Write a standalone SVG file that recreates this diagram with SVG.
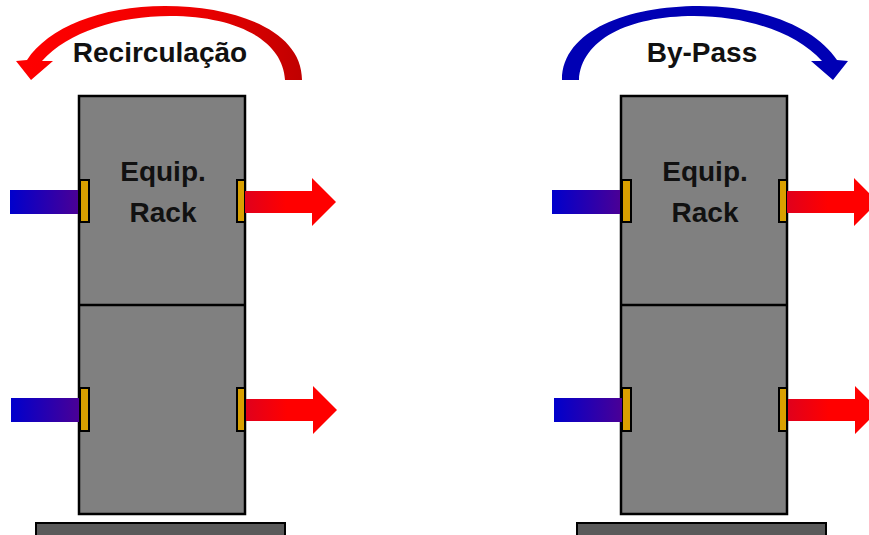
<svg xmlns="http://www.w3.org/2000/svg" width="869" height="535" viewBox="0 0 869 535">
<defs>
<linearGradient id="gBlue" x1="0" y1="0" x2="1" y2="0"><stop offset="0" stop-color="#0000cc"/><stop offset="1" stop-color="#4a0096"/></linearGradient>
<linearGradient id="gRed" x1="0" y1="0" x2="1" y2="0"><stop offset="0" stop-color="#e0001c"/><stop offset="0.45" stop-color="#ff0000"/><stop offset="1" stop-color="#ff0000"/></linearGradient>
<linearGradient id="gArcRed" x1="0" y1="0" x2="1" y2="0"><stop offset="0" stop-color="#ff0000"/><stop offset="0.6" stop-color="#f00000"/><stop offset="1" stop-color="#c00000"/></linearGradient>
<path id="arc" d="M302 80 C302 30 235 6 165 6 C100 6 48 28 27 60 L16 61 L31 80 L53 61 L42 61 C68 32 118 16 170 16 C236 16 283 40 285 80 Z"/>
<path id="flowArrow" d="M0 -11 L67 -11 L67 -24 L91 0 L67 24 L67 11 L0 11 Z"/>
<rect id="inBar" x="0" y="-12" width="68" height="24"/>
</defs>
<style>
.rack{fill:#808080;stroke:#000;stroke-width:2.5}
.base{fill:#5a5a5a;stroke:#000;stroke-width:2}
.port{fill:#d9a000;stroke:#000;stroke-width:2}
.lbl{font-family:"Liberation Sans",Arial,sans-serif;font-weight:bold;font-size:28px;fill:#111;text-anchor:middle}
</style>

<g id="rack-left">
<rect class="base" x="36" y="523" width="249" height="14"/>
<rect class="rack" x="79" y="96" width="166" height="418"/>
<line x1="79" y1="305" x2="245" y2="305" stroke="#000" stroke-width="2.5"/>
<rect class="port" x="80" y="180" width="9" height="42"/>
<rect class="port" x="237" y="180" width="8" height="42"/>
<rect class="port" x="80" y="388" width="9" height="43"/>
<rect class="port" x="237" y="388" width="8" height="43"/>
<text class="lbl" x="163" y="181">Equip.</text>
<text class="lbl" x="163" y="222">Rack</text>
</g>

<g id="rack-right">
<rect class="base" x="577" y="523" width="249" height="14"/>
<rect class="rack" x="621" y="96" width="166" height="418"/>
<line x1="621" y1="305" x2="787" y2="305" stroke="#000" stroke-width="2.5"/>
<rect class="port" x="622" y="180" width="9" height="42"/>
<rect class="port" x="779" y="180" width="8" height="42"/>
<rect class="port" x="622" y="388" width="9" height="43"/>
<rect class="port" x="779" y="388" width="8" height="43"/>
<text class="lbl" x="705" y="181">Equip.</text>
<text class="lbl" x="705" y="222">Rack</text>
</g>

<g id="label-recirc"><text class="lbl" x="160" y="62">Recirculação</text></g>
<g id="label-bypass"><text class="lbl" x="702" y="62">By-Pass</text></g>

<g id="connectors">
<use href="#arc" fill="url(#gArcRed)"/>
<use href="#arc" fill="#0000b4" transform="matrix(-1 0 0 1 864 0)"/>
<use href="#inBar" fill="url(#gBlue)" transform="translate(10 202)"/>
<use href="#inBar" fill="url(#gBlue)" transform="translate(11 410)"/>
<use href="#inBar" fill="url(#gBlue)" transform="translate(552 202)"/>
<use href="#inBar" fill="url(#gBlue)" transform="translate(554 410)"/>
<use href="#flowArrow" fill="url(#gRed)" transform="translate(245 202)"/>
<use href="#flowArrow" fill="url(#gRed)" transform="translate(246 410)"/>
<use href="#flowArrow" fill="url(#gRed)" transform="translate(787 202)"/>
<use href="#flowArrow" fill="url(#gRed)" transform="translate(788 410)"/>
</g>
</svg>
